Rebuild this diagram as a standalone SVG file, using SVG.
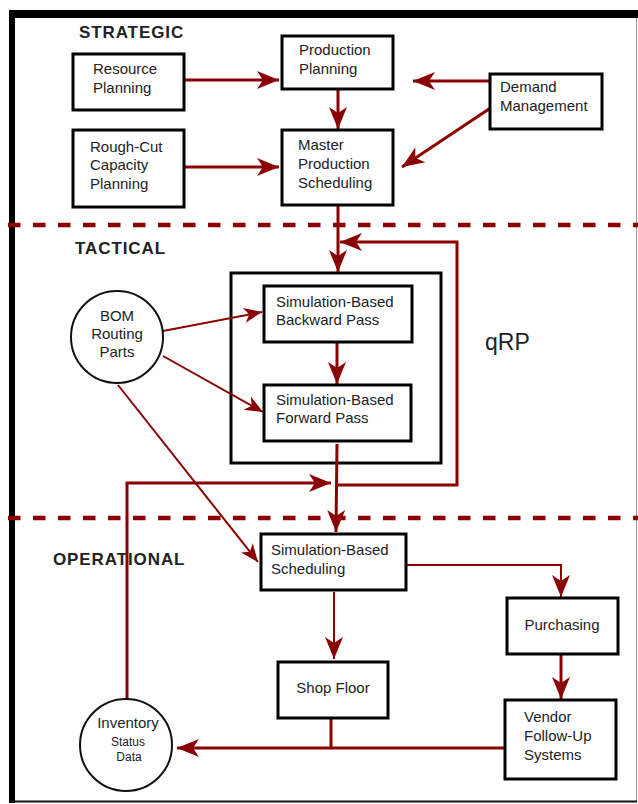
<svg xmlns="http://www.w3.org/2000/svg" width="638" height="804" viewBox="0 0 638 804">
  <defs>
    <style>
      .box { fill: #fff; stroke: #000; stroke-width: 3; }
      .circ { fill: #fff; stroke: #111; stroke-width: 2; }
      .txt { font-family: "Liberation Sans", Arial, sans-serif; font-size: 15px; fill: #222; }
      .small { font-size: 12px; }
      .lvl { font-family: "Liberation Sans", Arial, sans-serif; font-size: 17px; font-weight: bold; fill: #222; letter-spacing: 0.9px; }
      .flow { fill: none; stroke: #8b0000; stroke-width: 3; }
      .thin { stroke-width: 2; }
      .tier { fill: none; stroke: #8b0000; stroke-width: 4.5; stroke-dasharray: 12.5 12.5; }
    </style>
    <marker id="ah" markerUnits="userSpaceOnUse" markerWidth="26" markerHeight="22" viewBox="-24 -11 26 22" refX="0" refY="0" orient="auto">
      <path d="M0,0 L-22,-9 L-16,0 L-22,9 Z" fill="#8b0000"/>
    </marker>
    <marker id="ahs" markerUnits="userSpaceOnUse" markerWidth="22" markerHeight="18" viewBox="-20 -9 22 18" refX="0" refY="0" orient="auto">
      <path d="M0,0 L-18,-7.5 L-13,0 L-18,7.5 Z" fill="#8b0000"/>
    </marker>
  </defs>

  <rect width="638" height="804" fill="#fff"/>

  <!-- page frame -->
  <g id="frame">
    <line x1="636.5" y1="14" x2="636.5" y2="801" stroke="#999" stroke-width="1"/>
    <line x1="9" y1="801.5" x2="637" y2="801.5" stroke="#111" stroke-width="2"/>
    <rect x="9" y="10" width="629" height="8" fill="#000"/>
    <rect x="9" y="10" width="6" height="793" fill="#000"/>
  </g>

  <!-- planning tiers -->
  <g id="tiers">
    <line class="tier" x1="8" y1="225" x2="638" y2="225"/>
    <line class="tier" x1="8" y1="518" x2="638" y2="518"/>
    <text class="lvl" x="79" y="38">STRATEGIC</text>
    <text class="lvl" x="75" y="254">TACTICAL</text>
    <text class="lvl" x="53" y="565">OPERATIONAL</text>
    <text x="485" y="350" font-family="Liberation Sans, Arial, sans-serif" font-size="23" fill="#222">qRP</text>
  </g>

  <!-- qRP frame -->
  <g id="qrp">
    <rect class="box" x="231" y="273" width="210" height="190"/>
  </g>

  <!-- connectors -->
  <g id="connectors">
    <path class="flow" d="M185,80 L279,80" marker-end="url(#ah)"/>
    <path class="flow" d="M185,167 L279,167" marker-end="url(#ah)"/>
    <path class="flow" d="M490,81 L413,81" marker-end="url(#ah)"/>
    <path class="flow" d="M492,107 L402,167" marker-end="url(#ah)"/>
    <path class="flow" d="M338,90 L338,129" marker-end="url(#ah)"/>
    <path class="flow" d="M338,205 L338,272" marker-end="url(#ah)"/>
    <path class="flow" d="M337,342 L337,384" marker-end="url(#ah)"/>
    <path class="flow" d="M337,444 L336,532" marker-end="url(#ah)"/>
    <path class="flow" d="M338,485 L457,485 L457,242 L340,242" marker-end="url(#ah)"/>
    <path class="flow" d="M127,699 L127,483 L331,483" marker-end="url(#ah)"/>
    <path class="flow thin" d="M163,331 L262,312" marker-end="url(#ahs)"/>
    <path class="flow thin" d="M163,356 L263,412" marker-end="url(#ahs)"/>
    <path class="flow thin" d="M118,385 L258,562" marker-end="url(#ahs)"/>
    <path class="flow thin" d="M406,565 L561,565 L561,597" marker-end="url(#ah)"/>
    <path class="flow" d="M561,654 L561,699" marker-end="url(#ah)"/>
    <path class="flow thin" d="M334,592 L334,659" marker-end="url(#ah)"/>
    <path class="flow" d="M331,718 L331,748"/>
    <path class="flow" d="M505,748 L177,748" marker-end="url(#ah)"/>
    <rect x="505" y="744" width="4" height="8" fill="#8b0000"/>
  </g>

  <!-- strategic level -->
  <g id="resource-planning">
    <rect class="box" x="73" y="54" width="111" height="56"/>
    <text class="txt" x="93" y="74">Resource</text>
    <text class="txt" x="93" y="93">Planning</text>
  </g>
  <g id="rough-cut">
    <rect class="box" x="73" y="130" width="111" height="77"/>
    <text class="txt" x="90" y="152">Rough-Cut</text>
    <text class="txt" x="90" y="170">Capacity</text>
    <text class="txt" x="90" y="189">Planning</text>
  </g>
  <g id="production-planning">
    <rect class="box" x="282" y="36" width="111" height="53"/>
    <text class="txt" x="299" y="55">Production</text>
    <text class="txt" x="299" y="74">Planning</text>
  </g>
  <g id="mps">
    <rect class="box" x="282" y="130" width="111" height="75"/>
    <text class="txt" x="298" y="150">Master</text>
    <text class="txt" x="298" y="169">Production</text>
    <text class="txt" x="298" y="188">Scheduling</text>
  </g>
  <g id="demand-management">
    <rect class="box" x="490" y="74" width="112" height="55"/>
    <text class="txt" x="500" y="92">Demand</text>
    <text class="txt" x="500" y="111">Management</text>
  </g>

  <!-- tactical level -->
  <g id="bom">
    <circle class="circ" cx="117" cy="337" r="46"/>
    <text class="txt" x="117" y="321" text-anchor="middle">BOM</text>
    <text class="txt" x="117" y="339" text-anchor="middle">Routing</text>
    <text class="txt" x="117" y="357" text-anchor="middle">Parts</text>
  </g>
  <g id="backward-pass">
    <rect class="box" x="264" y="286" width="148" height="56"/>
    <text class="txt" x="276" y="307">Simulation-Based</text>
    <text class="txt" x="276" y="325">Backward Pass</text>
  </g>
  <g id="forward-pass">
    <rect class="box" x="264" y="385" width="147" height="56"/>
    <text class="txt" x="276" y="405">Simulation-Based</text>
    <text class="txt" x="276" y="423">Forward Pass</text>
  </g>

  <!-- operational level -->
  <g id="scheduling">
    <rect class="box" x="261" y="534" width="145" height="56"/>
    <text class="txt" x="271" y="555">Simulation-Based</text>
    <text class="txt" x="271" y="574">Scheduling</text>
  </g>
  <g id="purchasing">
    <rect class="box" x="507" y="598" width="111" height="56"/>
    <text class="txt" x="562" y="630" text-anchor="middle">Purchasing</text>
  </g>
  <g id="vendor">
    <rect class="box" x="505" y="700" width="111" height="79"/>
    <text class="txt" x="524" y="722">Vendor</text>
    <text class="txt" x="524" y="741">Follow-Up</text>
    <text class="txt" x="524" y="760">Systems</text>
  </g>
  <g id="shop-floor">
    <rect class="box" x="278" y="662" width="110" height="56"/>
    <text class="txt" x="333" y="693" text-anchor="middle">Shop Floor</text>
  </g>
  <g id="inventory">
    <circle class="circ" cx="126" cy="745" r="46"/>
    <text class="txt" x="128" y="728" text-anchor="middle">Inventory</text>
    <text class="txt small" x="128" y="746" text-anchor="middle">Status</text>
    <text class="txt small" x="129" y="761" text-anchor="middle">Data</text>
  </g>
</svg>
